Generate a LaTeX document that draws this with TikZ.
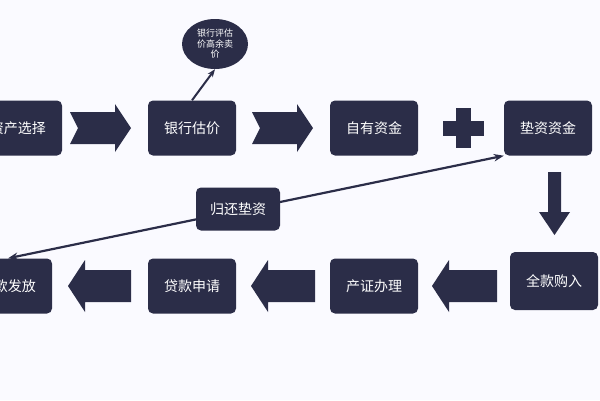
\documentclass[tikz,border=0pt]{standalone}
\usepackage{fontspec}
\setmainfont{Noto Sans CJK SC}
\usetikzlibrary{positioning,arrows.meta,shapes.geometric}
\definecolor{navy}{HTML}{2B2D48}
\tikzset{
  stepbox/.style={rectangle, rounded corners=5pt, fill=navy, text=white,
    minimum width=88pt, minimum height=55pt, font=\fontsize{14}{16}\selectfont},
  rarrow/.style={fill=navy},
}
\begin{document}
\begin{tikzpicture}[x=1pt, y=-1pt]
    \useasboundingbox (0,0) rectangle (600,400);
    \clip (0,0) rectangle (600,400);
    \fill[white!98!blue] (0,0) rectangle (600,400);

    % Top row
    \node[stepbox] (asset) at (18,128) {资产选择};
    \node[stepbox] (bank) at (192,128) {银行估价};
    \node[stepbox] (own) at (374,128) {自有资金};
    \node[stepbox] (advance) at (548,128) {垫资资金};
    \node[ellipse, fill=navy, text=white, minimum width=66pt, minimum height=50pt,
      inner sep=1pt, align=center, font=\fontsize{9}{10.5}\selectfont] (price) at (215,44)
      {银行评估\\价高余卖\\价};
    \draw[-{Stealth[length=8pt]}, line width=2pt, navy] (bank.north) -- (price.south);

    % Bottom row
    \node[stepbox] (loan) at (8,286) {贷款发放};
    \node[stepbox] (apply) at (192,286) {贷款申请};
    \node[stepbox] (cert) at (374,286) {产证办理};
    \node[stepbox, minimum height=58pt] (buy) at (554,281) {全款购入};

    % Block arrows
    \fill[rarrow] (70,112) -- (115,112) -- (115,104) -- (131,128) -- (115,152) -- (115,144) -- (70,144) -- (78,128) -- cycle;
    \fill[rarrow] (252,112) -- (297,112) -- (297,104) -- (313,128) -- (297,152) -- (297,144) -- (252,144) -- (260,128) -- cycle;
    \fill[rarrow] (456,108) rectangle (471,148);
    \fill[rarrow] (443,121) rectangle (484,136);
    \fill[rarrow] (548,172) -- (561,172) -- (561,212) -- (570,212) -- (554.5,235) -- (539,212) -- (548,212) -- cycle;
    \fill[rarrow] (497,270) -- (449,270) -- (449,260) -- (432,286) -- (449,312) -- (449,302) -- (497,302) -- cycle;
    \fill[rarrow] (315,270) -- (268,270) -- (268,260) -- (251,286) -- (268,312) -- (268,302) -- (315,302) -- cycle;
    \fill[rarrow] (131,270) -- (85,270) -- (85,260) -- (68,286) -- (85,312) -- (85,302) -- (131,302) -- cycle;

    % Return line
    \draw[{Stealth[length=10pt]}-{Stealth[length=10pt]}, line width=2.2pt, navy]
      (loan.north) -- (advance.south west);
    \node[stepbox, minimum width=84pt, minimum height=43pt] (repay) at (238,209) {归还垫资};
\end{tikzpicture}
\end{document}
